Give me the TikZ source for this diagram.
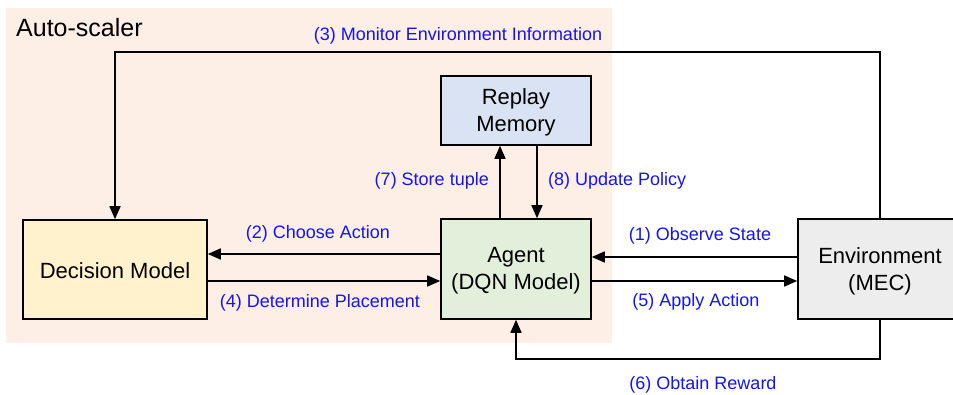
\documentclass[tikz,border=0pt]{standalone}
\usepackage{fontspec}
\setmainfont{Liberation Sans}
\usetikzlibrary{arrows.meta}
\definecolor{scalerbg}{HTML}{FDEEE6}
\definecolor{memfill}{HTML}{DAE3F3}
\definecolor{decfill}{HTML}{FFF2CC}
\definecolor{agentfill}{HTML}{E2EFDA}
\definecolor{envfill}{HTML}{EDEDED}
\definecolor{steplabel}{HTML}{1414F5}
\tikzset{
  block/.style={draw=black, line width=1.6pt, align=center, inner sep=0pt,
    font=\fontsize{22}{27}\selectfont},
  blocktext/.style={inner sep=0pt, align=center, font=\fontsize{22}{27}\selectfont},
  flow/.style={draw=black, line width=1.6pt, -{Triangle[length=13pt,width=11pt]}},
  steptext/.style={text=steplabel, inner sep=0pt, font=\fontsize{18}{21}\selectfont},
}
\begin{document}
\begin{tikzpicture}[x=1pt,y=-1pt]
\useasboundingbox (0,0) rectangle (953,395);
% auto-scaler region
\fill[scalerbg] (6,8) rectangle (612,343);
\node[anchor=west, inner sep=0pt, font=\fontsize{25}{29}\selectfont] (scalertitle) at (16,28) {Auto-scaler};

% blocks (frames), with their captions set slightly below centre
\node[block, fill=decfill, minimum width=184pt, minimum height=99pt] (dec) at (115,269.5) {};
\node[block, fill=agentfill, minimum width=150pt, minimum height=100pt] (agent) at (516,269) {};
\node[block, fill=memfill, minimum width=150pt, minimum height=69pt] (mem) at (516,110.5) {};
\node[block, fill=envfill, minimum width=164pt, minimum height=100pt] (env) at (880,269) {};
\node[blocktext] (dectext) at ([yshift=-1.5pt]dec.center) {Decision Model};
\node[blocktext] (agenttext) at ([yshift=-2pt]agent.center) {Agent\\(DQN Model)};
\node[blocktext] (memtext) at ([yshift=-2pt]mem.center) {Replay\\Memory};
\node[blocktext] (envtext) at ([yshift=-2pt]env.center) {Environment\\(MEC)};

% connectors
\draw[flow] (env.west |- 0,257) -- (agent.east |- 0,257);
\draw[flow] (agent.west |- 0,254) -- (dec.east |- 0,254);
\draw[flow] (dec.east |- 0,281) -- (agent.west |- 0,281);
\draw[flow] (agent.east |- 0,281) -- (env.west |- 0,281);
\draw[flow] (agent.north -| 500,0) -- (mem.south -| 500,0);
\draw[flow] (mem.south -| 537,0) -- (agent.north -| 537,0);
\draw[flow] (env.north) -- (env.north |- 0,52) -| (dec.north);
\draw[flow] (env.south) -- (env.south |- 0,359) -| (agent.south);

% step labels
\node[steptext] (l1) at (700,235.5) {(1) Observe State};
\node[steptext] (l2) at (318,233.5) {(2) Choose Action};
\node[steptext] (l3) at (458,35.5) {(3) Monitor Environment Information};
\node[steptext] (l4) at (320,302.5) {(4) Determine Placement};
\node[steptext] (l5) at (696,301.5) {(5) Apply Action};
\node[steptext] (l6) at (703,384.5) {(6) Obtain Reward};
\node[steptext, anchor=east] (l7) at (489,180.5) {(7) Store tuple};
\node[steptext, anchor=west] (l8) at (548,180.5) {(8) Update Policy};
\end{tikzpicture}
\end{document}
